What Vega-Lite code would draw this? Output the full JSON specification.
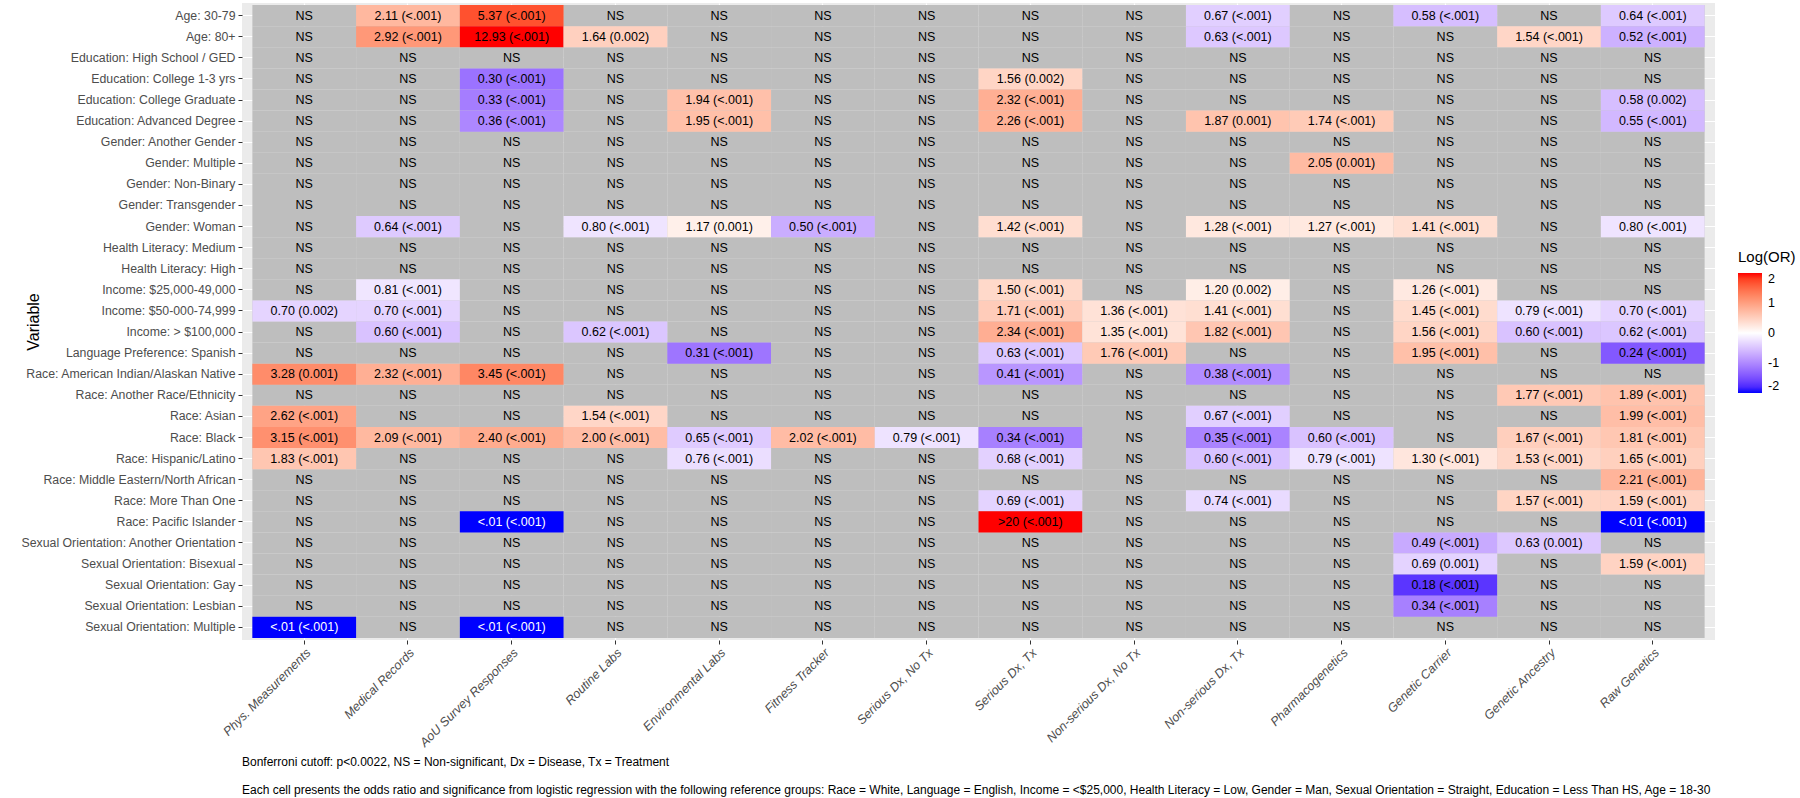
{
"$schema": "https://vega.github.io/schema/vega-lite/v6.json",
"width": 1473,
"height": 637,
"autosize": {"type": "none"},
"padding": {"left": 242, "top": 3, "right": 85, "bottom": 158},
"background": "white",
"view": {"fill": "#EBEBEB", "stroke": null},
"config": {"font": "Liberation Sans"},
"title": {
"text": ["Bonferroni cutoff: p<0.0022, NS = Non-significant, Dx = Disease, Tx = Treatment", "Each cell presents the odds ratio and significance from logistic regression with the following reference groups: Race = White, Language = English, Income = <$25,000, Health Literacy = Low, Gender = Man, Sexual Orientation = Straight, Education = Less Than HS, Age = 18-30"],
"orient": "bottom", "anchor": "start", "frame": "group", "fontSize": 12, "fontWeight": "normal", "color": "black", "lineHeight": 28.5, "offset": 8
},
"datasets": {
"rows": [
{"r":1,"var":"Age: 30-79"},{"r":2,"var":"Age: 80+"},{"r":3,"var":"Education: High School / GED"},{"r":4,"var":"Education: College 1-3 yrs"},{"r":5,"var":"Education: College Graduate"},{"r":6,"var":"Education: Advanced Degree"},{"r":7,"var":"Gender: Another Gender"},{"r":8,"var":"Gender: Multiple"},{"r":9,"var":"Gender: Non-Binary"},{"r":10,"var":"Gender: Transgender"},{"r":11,"var":"Gender: Woman"},{"r":12,"var":"Health Literacy: Medium"},{"r":13,"var":"Health Literacy: High"},{"r":14,"var":"Income: $25,000-49,000"},{"r":15,"var":"Income: $50-000-74,999"},{"r":16,"var":"Income: > $100,000"},{"r":17,"var":"Language Preference: Spanish"},{"r":18,"var":"Race: American Indian/Alaskan Native"},{"r":19,"var":"Race: Another Race/Ethnicity"},{"r":20,"var":"Race: Asian"},{"r":21,"var":"Race: Black"},{"r":22,"var":"Race: Hispanic/Latino"},{"r":23,"var":"Race: Middle Eastern/North African"},{"r":24,"var":"Race: More Than One"},{"r":25,"var":"Race: Pacific Islander"},{"r":26,"var":"Sexual Orientation: Another Orientation"},{"r":27,"var":"Sexual Orientation: Bisexual"},{"r":28,"var":"Sexual Orientation: Gay"},{"r":29,"var":"Sexual Orientation: Lesbian"},{"r":30,"var":"Sexual Orientation: Multiple"}
],
"cols": [
{"c":1,"col":"Phys. Measurements"},{"c":2,"col":"Medical Records"},{"c":3,"col":"AoU Survey Responses"},{"c":4,"col":"Routine Labs"},{"c":5,"col":"Environmental Labs"},{"c":6,"col":"Fitness Tracker"},{"c":7,"col":"Serious Dx, No Tx"},{"c":8,"col":"Serious Dx, Tx"},{"c":9,"col":"Non-serious Dx, No Tx"},{"c":10,"col":"Non-serious Dx, Tx"},{"c":11,"col":"Pharmacogenetics"},{"c":12,"col":"Genetic Carrier"},{"c":13,"col":"Genetic Ancestry"},{"c":14,"col":"Raw Genetics"}
],
"cells": [
{"r":1,"c":1,"t":"NS"},{"r":1,"c":2,"t":"2.11 (<.001)","l":0.747},{"r":1,"c":3,"t":"5.37 (<.001)","l":1.681},{"r":1,"c":4,"t":"NS"},{"r":1,"c":5,"t":"NS"},{"r":1,"c":6,"t":"NS"},{"r":1,"c":7,"t":"NS"},{"r":1,"c":8,"t":"NS"},{"r":1,"c":9,"t":"NS"},{"r":1,"c":10,"t":"0.67 (<.001)","l":-0.400},{"r":1,"c":11,"t":"NS"},{"r":1,"c":12,"t":"0.58 (<.001)","l":-0.545},{"r":1,"c":13,"t":"NS"},{"r":1,"c":14,"t":"0.64 (<.001)","l":-0.446},
{"r":2,"c":1,"t":"NS"},{"r":2,"c":2,"t":"2.92 (<.001)","l":1.072},{"r":2,"c":3,"t":"12.93 (<.001)","l":2.560},{"r":2,"c":4,"t":"1.64 (0.002)","l":0.495},{"r":2,"c":5,"t":"NS"},{"r":2,"c":6,"t":"NS"},{"r":2,"c":7,"t":"NS"},{"r":2,"c":8,"t":"NS"},{"r":2,"c":9,"t":"NS"},{"r":2,"c":10,"t":"0.63 (<.001)","l":-0.462},{"r":2,"c":11,"t":"NS"},{"r":2,"c":12,"t":"NS"},{"r":2,"c":13,"t":"1.54 (<.001)","l":0.432},{"r":2,"c":14,"t":"0.52 (<.001)","l":-0.654},
{"r":3,"c":1,"t":"NS"},{"r":3,"c":2,"t":"NS"},{"r":3,"c":3,"t":"NS"},{"r":3,"c":4,"t":"NS"},{"r":3,"c":5,"t":"NS"},{"r":3,"c":6,"t":"NS"},{"r":3,"c":7,"t":"NS"},{"r":3,"c":8,"t":"NS"},{"r":3,"c":9,"t":"NS"},{"r":3,"c":10,"t":"NS"},{"r":3,"c":11,"t":"NS"},{"r":3,"c":12,"t":"NS"},{"r":3,"c":13,"t":"NS"},{"r":3,"c":14,"t":"NS"},
{"r":4,"c":1,"t":"NS"},{"r":4,"c":2,"t":"NS"},{"r":4,"c":3,"t":"0.30 (<.001)","l":-1.204},{"r":4,"c":4,"t":"NS"},{"r":4,"c":5,"t":"NS"},{"r":4,"c":6,"t":"NS"},{"r":4,"c":7,"t":"NS"},{"r":4,"c":8,"t":"1.56 (0.002)","l":0.445},{"r":4,"c":9,"t":"NS"},{"r":4,"c":10,"t":"NS"},{"r":4,"c":11,"t":"NS"},{"r":4,"c":12,"t":"NS"},{"r":4,"c":13,"t":"NS"},{"r":4,"c":14,"t":"NS"},
{"r":5,"c":1,"t":"NS"},{"r":5,"c":2,"t":"NS"},{"r":5,"c":3,"t":"0.33 (<.001)","l":-1.109},{"r":5,"c":4,"t":"NS"},{"r":5,"c":5,"t":"1.94 (<.001)","l":0.663},{"r":5,"c":6,"t":"NS"},{"r":5,"c":7,"t":"NS"},{"r":5,"c":8,"t":"2.32 (<.001)","l":0.842},{"r":5,"c":9,"t":"NS"},{"r":5,"c":10,"t":"NS"},{"r":5,"c":11,"t":"NS"},{"r":5,"c":12,"t":"NS"},{"r":5,"c":13,"t":"NS"},{"r":5,"c":14,"t":"0.58 (0.002)","l":-0.545},
{"r":6,"c":1,"t":"NS"},{"r":6,"c":2,"t":"NS"},{"r":6,"c":3,"t":"0.36 (<.001)","l":-1.022},{"r":6,"c":4,"t":"NS"},{"r":6,"c":5,"t":"1.95 (<.001)","l":0.668},{"r":6,"c":6,"t":"NS"},{"r":6,"c":7,"t":"NS"},{"r":6,"c":8,"t":"2.26 (<.001)","l":0.815},{"r":6,"c":9,"t":"NS"},{"r":6,"c":10,"t":"1.87 (0.001)","l":0.626},{"r":6,"c":11,"t":"1.74 (<.001)","l":0.554},{"r":6,"c":12,"t":"NS"},{"r":6,"c":13,"t":"NS"},{"r":6,"c":14,"t":"0.55 (<.001)","l":-0.598},
{"r":7,"c":1,"t":"NS"},{"r":7,"c":2,"t":"NS"},{"r":7,"c":3,"t":"NS"},{"r":7,"c":4,"t":"NS"},{"r":7,"c":5,"t":"NS"},{"r":7,"c":6,"t":"NS"},{"r":7,"c":7,"t":"NS"},{"r":7,"c":8,"t":"NS"},{"r":7,"c":9,"t":"NS"},{"r":7,"c":10,"t":"NS"},{"r":7,"c":11,"t":"NS"},{"r":7,"c":12,"t":"NS"},{"r":7,"c":13,"t":"NS"},{"r":7,"c":14,"t":"NS"},
{"r":8,"c":1,"t":"NS"},{"r":8,"c":2,"t":"NS"},{"r":8,"c":3,"t":"NS"},{"r":8,"c":4,"t":"NS"},{"r":8,"c":5,"t":"NS"},{"r":8,"c":6,"t":"NS"},{"r":8,"c":7,"t":"NS"},{"r":8,"c":8,"t":"NS"},{"r":8,"c":9,"t":"NS"},{"r":8,"c":10,"t":"NS"},{"r":8,"c":11,"t":"2.05 (0.001)","l":0.718},{"r":8,"c":12,"t":"NS"},{"r":8,"c":13,"t":"NS"},{"r":8,"c":14,"t":"NS"},
{"r":9,"c":1,"t":"NS"},{"r":9,"c":2,"t":"NS"},{"r":9,"c":3,"t":"NS"},{"r":9,"c":4,"t":"NS"},{"r":9,"c":5,"t":"NS"},{"r":9,"c":6,"t":"NS"},{"r":9,"c":7,"t":"NS"},{"r":9,"c":8,"t":"NS"},{"r":9,"c":9,"t":"NS"},{"r":9,"c":10,"t":"NS"},{"r":9,"c":11,"t":"NS"},{"r":9,"c":12,"t":"NS"},{"r":9,"c":13,"t":"NS"},{"r":9,"c":14,"t":"NS"},
{"r":10,"c":1,"t":"NS"},{"r":10,"c":2,"t":"NS"},{"r":10,"c":3,"t":"NS"},{"r":10,"c":4,"t":"NS"},{"r":10,"c":5,"t":"NS"},{"r":10,"c":6,"t":"NS"},{"r":10,"c":7,"t":"NS"},{"r":10,"c":8,"t":"NS"},{"r":10,"c":9,"t":"NS"},{"r":10,"c":10,"t":"NS"},{"r":10,"c":11,"t":"NS"},{"r":10,"c":12,"t":"NS"},{"r":10,"c":13,"t":"NS"},{"r":10,"c":14,"t":"NS"},
{"r":11,"c":1,"t":"NS"},{"r":11,"c":2,"t":"0.64 (<.001)","l":-0.446},{"r":11,"c":3,"t":"NS"},{"r":11,"c":4,"t":"0.80 (<.001)","l":-0.223},{"r":11,"c":5,"t":"1.17 (0.001)","l":0.157},{"r":11,"c":6,"t":"0.50 (<.001)","l":-0.693},{"r":11,"c":7,"t":"NS"},{"r":11,"c":8,"t":"1.42 (<.001)","l":0.351},{"r":11,"c":9,"t":"NS"},{"r":11,"c":10,"t":"1.28 (<.001)","l":0.247},{"r":11,"c":11,"t":"1.27 (<.001)","l":0.239},{"r":11,"c":12,"t":"1.41 (<.001)","l":0.344},{"r":11,"c":13,"t":"NS"},{"r":11,"c":14,"t":"0.80 (<.001)","l":-0.223},
{"r":12,"c":1,"t":"NS"},{"r":12,"c":2,"t":"NS"},{"r":12,"c":3,"t":"NS"},{"r":12,"c":4,"t":"NS"},{"r":12,"c":5,"t":"NS"},{"r":12,"c":6,"t":"NS"},{"r":12,"c":7,"t":"NS"},{"r":12,"c":8,"t":"NS"},{"r":12,"c":9,"t":"NS"},{"r":12,"c":10,"t":"NS"},{"r":12,"c":11,"t":"NS"},{"r":12,"c":12,"t":"NS"},{"r":12,"c":13,"t":"NS"},{"r":12,"c":14,"t":"NS"},
{"r":13,"c":1,"t":"NS"},{"r":13,"c":2,"t":"NS"},{"r":13,"c":3,"t":"NS"},{"r":13,"c":4,"t":"NS"},{"r":13,"c":5,"t":"NS"},{"r":13,"c":6,"t":"NS"},{"r":13,"c":7,"t":"NS"},{"r":13,"c":8,"t":"NS"},{"r":13,"c":9,"t":"NS"},{"r":13,"c":10,"t":"NS"},{"r":13,"c":11,"t":"NS"},{"r":13,"c":12,"t":"NS"},{"r":13,"c":13,"t":"NS"},{"r":13,"c":14,"t":"NS"},
{"r":14,"c":1,"t":"NS"},{"r":14,"c":2,"t":"0.81 (<.001)","l":-0.211},{"r":14,"c":3,"t":"NS"},{"r":14,"c":4,"t":"NS"},{"r":14,"c":5,"t":"NS"},{"r":14,"c":6,"t":"NS"},{"r":14,"c":7,"t":"NS"},{"r":14,"c":8,"t":"1.50 (<.001)","l":0.405},{"r":14,"c":9,"t":"NS"},{"r":14,"c":10,"t":"1.20 (0.002)","l":0.182},{"r":14,"c":11,"t":"NS"},{"r":14,"c":12,"t":"1.26 (<.001)","l":0.231},{"r":14,"c":13,"t":"NS"},{"r":14,"c":14,"t":"NS"},
{"r":15,"c":1,"t":"0.70 (0.002)","l":-0.357},{"r":15,"c":2,"t":"0.70 (<.001)","l":-0.357},{"r":15,"c":3,"t":"NS"},{"r":15,"c":4,"t":"NS"},{"r":15,"c":5,"t":"NS"},{"r":15,"c":6,"t":"NS"},{"r":15,"c":7,"t":"NS"},{"r":15,"c":8,"t":"1.71 (<.001)","l":0.536},{"r":15,"c":9,"t":"1.36 (<.001)","l":0.307},{"r":15,"c":10,"t":"1.41 (<.001)","l":0.344},{"r":15,"c":11,"t":"NS"},{"r":15,"c":12,"t":"1.45 (<.001)","l":0.372},{"r":15,"c":13,"t":"0.79 (<.001)","l":-0.236},{"r":15,"c":14,"t":"0.70 (<.001)","l":-0.357},
{"r":16,"c":1,"t":"NS"},{"r":16,"c":2,"t":"0.60 (<.001)","l":-0.511},{"r":16,"c":3,"t":"NS"},{"r":16,"c":4,"t":"0.62 (<.001)","l":-0.478},{"r":16,"c":5,"t":"NS"},{"r":16,"c":6,"t":"NS"},{"r":16,"c":7,"t":"NS"},{"r":16,"c":8,"t":"2.34 (<.001)","l":0.850},{"r":16,"c":9,"t":"1.35 (<.001)","l":0.300},{"r":16,"c":10,"t":"1.82 (<.001)","l":0.599},{"r":16,"c":11,"t":"NS"},{"r":16,"c":12,"t":"1.56 (<.001)","l":0.445},{"r":16,"c":13,"t":"0.60 (<.001)","l":-0.511},{"r":16,"c":14,"t":"0.62 (<.001)","l":-0.478},
{"r":17,"c":1,"t":"NS"},{"r":17,"c":2,"t":"NS"},{"r":17,"c":3,"t":"NS"},{"r":17,"c":4,"t":"NS"},{"r":17,"c":5,"t":"0.31 (<.001)","l":-1.171},{"r":17,"c":6,"t":"NS"},{"r":17,"c":7,"t":"NS"},{"r":17,"c":8,"t":"0.63 (<.001)","l":-0.462},{"r":17,"c":9,"t":"1.76 (<.001)","l":0.565},{"r":17,"c":10,"t":"NS"},{"r":17,"c":11,"t":"NS"},{"r":17,"c":12,"t":"1.95 (<.001)","l":0.668},{"r":17,"c":13,"t":"NS"},{"r":17,"c":14,"t":"0.24 (<.001)","l":-1.427},
{"r":18,"c":1,"t":"3.28 (0.001)","l":1.188},{"r":18,"c":2,"t":"2.32 (<.001)","l":0.842},{"r":18,"c":3,"t":"3.45 (<.001)","l":1.238},{"r":18,"c":4,"t":"NS"},{"r":18,"c":5,"t":"NS"},{"r":18,"c":6,"t":"NS"},{"r":18,"c":7,"t":"NS"},{"r":18,"c":8,"t":"0.41 (<.001)","l":-0.892},{"r":18,"c":9,"t":"NS"},{"r":18,"c":10,"t":"0.38 (<.001)","l":-0.968},{"r":18,"c":11,"t":"NS"},{"r":18,"c":12,"t":"NS"},{"r":18,"c":13,"t":"NS"},{"r":18,"c":14,"t":"NS"},
{"r":19,"c":1,"t":"NS"},{"r":19,"c":2,"t":"NS"},{"r":19,"c":3,"t":"NS"},{"r":19,"c":4,"t":"NS"},{"r":19,"c":5,"t":"NS"},{"r":19,"c":6,"t":"NS"},{"r":19,"c":7,"t":"NS"},{"r":19,"c":8,"t":"NS"},{"r":19,"c":9,"t":"NS"},{"r":19,"c":10,"t":"NS"},{"r":19,"c":11,"t":"NS"},{"r":19,"c":12,"t":"NS"},{"r":19,"c":13,"t":"1.77 (<.001)","l":0.571},{"r":19,"c":14,"t":"1.89 (<.001)","l":0.637},
{"r":20,"c":1,"t":"2.62 (<.001)","l":0.963},{"r":20,"c":2,"t":"NS"},{"r":20,"c":3,"t":"NS"},{"r":20,"c":4,"t":"1.54 (<.001)","l":0.432},{"r":20,"c":5,"t":"NS"},{"r":20,"c":6,"t":"NS"},{"r":20,"c":7,"t":"NS"},{"r":20,"c":8,"t":"NS"},{"r":20,"c":9,"t":"NS"},{"r":20,"c":10,"t":"0.67 (<.001)","l":-0.400},{"r":20,"c":11,"t":"NS"},{"r":20,"c":12,"t":"NS"},{"r":20,"c":13,"t":"NS"},{"r":20,"c":14,"t":"1.99 (<.001)","l":0.688},
{"r":21,"c":1,"t":"3.15 (<.001)","l":1.147},{"r":21,"c":2,"t":"2.09 (<.001)","l":0.737},{"r":21,"c":3,"t":"2.40 (<.001)","l":0.875},{"r":21,"c":4,"t":"2.00 (<.001)","l":0.693},{"r":21,"c":5,"t":"0.65 (<.001)","l":-0.431},{"r":21,"c":6,"t":"2.02 (<.001)","l":0.703},{"r":21,"c":7,"t":"0.79 (<.001)","l":-0.236},{"r":21,"c":8,"t":"0.34 (<.001)","l":-1.079},{"r":21,"c":9,"t":"NS"},{"r":21,"c":10,"t":"0.35 (<.001)","l":-1.050},{"r":21,"c":11,"t":"0.60 (<.001)","l":-0.511},{"r":21,"c":12,"t":"NS"},{"r":21,"c":13,"t":"1.67 (<.001)","l":0.513},{"r":21,"c":14,"t":"1.81 (<.001)","l":0.593},
{"r":22,"c":1,"t":"1.83 (<.001)","l":0.604},{"r":22,"c":2,"t":"NS"},{"r":22,"c":3,"t":"NS"},{"r":22,"c":4,"t":"NS"},{"r":22,"c":5,"t":"0.76 (<.001)","l":-0.274},{"r":22,"c":6,"t":"NS"},{"r":22,"c":7,"t":"NS"},{"r":22,"c":8,"t":"0.68 (<.001)","l":-0.386},{"r":22,"c":9,"t":"NS"},{"r":22,"c":10,"t":"0.60 (<.001)","l":-0.511},{"r":22,"c":11,"t":"0.79 (<.001)","l":-0.236},{"r":22,"c":12,"t":"1.30 (<.001)","l":0.262},{"r":22,"c":13,"t":"1.53 (<.001)","l":0.425},{"r":22,"c":14,"t":"1.65 (<.001)","l":0.501},
{"r":23,"c":1,"t":"NS"},{"r":23,"c":2,"t":"NS"},{"r":23,"c":3,"t":"NS"},{"r":23,"c":4,"t":"NS"},{"r":23,"c":5,"t":"NS"},{"r":23,"c":6,"t":"NS"},{"r":23,"c":7,"t":"NS"},{"r":23,"c":8,"t":"NS"},{"r":23,"c":9,"t":"NS"},{"r":23,"c":10,"t":"NS"},{"r":23,"c":11,"t":"NS"},{"r":23,"c":12,"t":"NS"},{"r":23,"c":13,"t":"NS"},{"r":23,"c":14,"t":"2.21 (<.001)","l":0.793},
{"r":24,"c":1,"t":"NS"},{"r":24,"c":2,"t":"NS"},{"r":24,"c":3,"t":"NS"},{"r":24,"c":4,"t":"NS"},{"r":24,"c":5,"t":"NS"},{"r":24,"c":6,"t":"NS"},{"r":24,"c":7,"t":"NS"},{"r":24,"c":8,"t":"0.69 (<.001)","l":-0.371},{"r":24,"c":9,"t":"NS"},{"r":24,"c":10,"t":"0.74 (<.001)","l":-0.301},{"r":24,"c":11,"t":"NS"},{"r":24,"c":12,"t":"NS"},{"r":24,"c":13,"t":"1.57 (<.001)","l":0.451},{"r":24,"c":14,"t":"1.59 (<.001)","l":0.464},
{"r":25,"c":1,"t":"NS"},{"r":25,"c":2,"t":"NS"},{"r":25,"c":3,"t":"<.01 (<.001)","l":-4.605},{"r":25,"c":4,"t":"NS"},{"r":25,"c":5,"t":"NS"},{"r":25,"c":6,"t":"NS"},{"r":25,"c":7,"t":"NS"},{"r":25,"c":8,"t":">20 (<.001)","l":2.996},{"r":25,"c":9,"t":"NS"},{"r":25,"c":10,"t":"NS"},{"r":25,"c":11,"t":"NS"},{"r":25,"c":12,"t":"NS"},{"r":25,"c":13,"t":"NS"},{"r":25,"c":14,"t":"<.01 (<.001)","l":-4.605},
{"r":26,"c":1,"t":"NS"},{"r":26,"c":2,"t":"NS"},{"r":26,"c":3,"t":"NS"},{"r":26,"c":4,"t":"NS"},{"r":26,"c":5,"t":"NS"},{"r":26,"c":6,"t":"NS"},{"r":26,"c":7,"t":"NS"},{"r":26,"c":8,"t":"NS"},{"r":26,"c":9,"t":"NS"},{"r":26,"c":10,"t":"NS"},{"r":26,"c":11,"t":"NS"},{"r":26,"c":12,"t":"0.49 (<.001)","l":-0.713},{"r":26,"c":13,"t":"0.63 (0.001)","l":-0.462},{"r":26,"c":14,"t":"NS"},
{"r":27,"c":1,"t":"NS"},{"r":27,"c":2,"t":"NS"},{"r":27,"c":3,"t":"NS"},{"r":27,"c":4,"t":"NS"},{"r":27,"c":5,"t":"NS"},{"r":27,"c":6,"t":"NS"},{"r":27,"c":7,"t":"NS"},{"r":27,"c":8,"t":"NS"},{"r":27,"c":9,"t":"NS"},{"r":27,"c":10,"t":"NS"},{"r":27,"c":11,"t":"NS"},{"r":27,"c":12,"t":"0.69 (0.001)","l":-0.371},{"r":27,"c":13,"t":"NS"},{"r":27,"c":14,"t":"1.59 (<.001)","l":0.464},
{"r":28,"c":1,"t":"NS"},{"r":28,"c":2,"t":"NS"},{"r":28,"c":3,"t":"NS"},{"r":28,"c":4,"t":"NS"},{"r":28,"c":5,"t":"NS"},{"r":28,"c":6,"t":"NS"},{"r":28,"c":7,"t":"NS"},{"r":28,"c":8,"t":"NS"},{"r":28,"c":9,"t":"NS"},{"r":28,"c":10,"t":"NS"},{"r":28,"c":11,"t":"NS"},{"r":28,"c":12,"t":"0.18 (<.001)","l":-1.715},{"r":28,"c":13,"t":"NS"},{"r":28,"c":14,"t":"NS"},
{"r":29,"c":1,"t":"NS"},{"r":29,"c":2,"t":"NS"},{"r":29,"c":3,"t":"NS"},{"r":29,"c":4,"t":"NS"},{"r":29,"c":5,"t":"NS"},{"r":29,"c":6,"t":"NS"},{"r":29,"c":7,"t":"NS"},{"r":29,"c":8,"t":"NS"},{"r":29,"c":9,"t":"NS"},{"r":29,"c":10,"t":"NS"},{"r":29,"c":11,"t":"NS"},{"r":29,"c":12,"t":"0.34 (<.001)","l":-1.079},{"r":29,"c":13,"t":"NS"},{"r":29,"c":14,"t":"NS"},
{"r":30,"c":1,"t":"<.01 (<.001)","l":-4.605},{"r":30,"c":2,"t":"NS"},{"r":30,"c":3,"t":"<.01 (<.001)","l":-4.605},{"r":30,"c":4,"t":"NS"},{"r":30,"c":5,"t":"NS"},{"r":30,"c":6,"t":"NS"},{"r":30,"c":7,"t":"NS"},{"r":30,"c":8,"t":"NS"},{"r":30,"c":9,"t":"NS"},{"r":30,"c":10,"t":"NS"},{"r":30,"c":11,"t":"NS"},{"r":30,"c":12,"t":"NS"},{"r":30,"c":13,"t":"NS"},{"r":30,"c":14,"t":"NS"}
]
},
"data": {"name": "cells"},
"transform": [
{"lookup": "r", "from": {"data": {"name": "rows"}, "key": "r", "fields": ["var"]}},
{"lookup": "c", "from": {"data": {"name": "cols"}, "key": "c", "fields": ["col"]}}
],
"encoding": {
"x": {"field": "col", "type": "nominal", "sort": {"field": "c", "op": "min"}, "scale": {"paddingInner": 0, "paddingOuter": 0.1},
"axis": {"title": null, "zindex": 0, "bandPosition": 0.5, "grid": true, "gridColor": "white", "gridWidth": 1.2, "domain": false, "ticks": true, "tickSize": 4, "tickColor": "#333333", "tickWidth": 1, "labelAngle": -45, "labelAlign": "right", "labelBaseline": "top", "labelPadding": 2, "labelFontSize": 12.5, "labelFontStyle": "italic", "labelColor": "#4D4D4D", "labelLimit": 400}},
"y": {"field": "var", "type": "nominal", "sort": {"field": "r", "op": "min"}, "scale": {"paddingInner": 0, "paddingOuter": 0.1},
"axis": {"title": "Variable", "zindex": 0, "titleFontSize": 16, "titleFontWeight": "normal", "titleColor": "black", "titlePadding": 1, "bandPosition": 0.5, "grid": true, "gridColor": "white", "gridWidth": 1.2, "domain": false, "tickSize": 4, "tickColor": "#333333", "tickWidth": 1, "labelPadding": 3, "labelFontSize": 12.3, "labelColor": "#4D4D4D", "labelLimit": 400}}
},
"layer": [
{"mark": {"type": "rect", "color": "#BEBEBE"}},
{"mark": {"type": "rect"},
"encoding": {
"color": {"field": "l", "type": "quantitative",
"scale": {"domain": [-2, 0, 2], "range": ["blue", "white", "red"], "interpolate": "lab", "clamp": true},
"legend": {"title": "Log(OR)", "orient": "none", "legendX": 1496, "legendY": 247, "direction": "vertical", "gradientLength": 120, "gradientThickness": 24, "gradientStrokeWidth": 0, "values": [2, 1, 0, -1, -2], "labelExpr": "'' + datum.value", "labelFontSize": 12.5, "labelColor": "black", "labelOffset": 6, "labelBaseline": "middle", "titleFontSize": 15, "titleFontWeight": "normal", "titleColor": "black", "titlePadding": 8}},
"opacity": {"condition": {"test": "datum.l == null", "value": 0}, "value": 1}
}},
{"mark": {"type": "text", "fontSize": 12.5},
"encoding": {
"text": {"field": "t", "type": "nominal"},
"color": {"condition": {"test": "datum.l != null && datum.l < -3", "value": "white"}, "value": "black"}
}}
]
}
